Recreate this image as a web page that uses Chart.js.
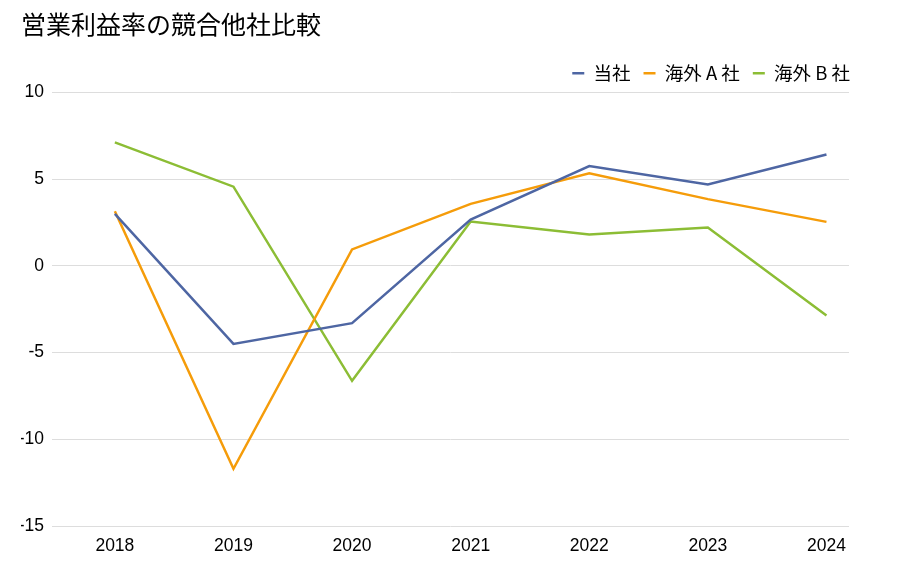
<!DOCTYPE html>
<html lang="ja">
<head>
<meta charset="utf-8">
<script src="https://cdn.jsdelivr.net/npm/chart.js@4/dist/chart.umd.min.js"></script>
<style>
  html, body { margin: 0; padding: 0; background: #fff; }
  #wrap { width: 900px; height: 579px; }
</style>
</head>
<body>
<div id="wrap"><canvas id="chart"></canvas></div>
<script>
// 営業利益率 (%) の推移
const years = [2018, 2019, 2020, 2021, 2022, 2023, 2024];
const tousha = [3.0, -4.5, -3.3, 2.67, 5.76, 4.7, 6.42];
const kaigaiA = [3.15, -11.7, 0.95, 3.58, 5.34, 3.85, 2.54];
const kaigaiB = [7.12, 4.57, -6.63, 2.56, 1.81, 2.21, -2.86];
const seriesNames = ['当社', '海外 A 社', '海外 B 社'];
const yTicks = [10, 5, 0, -5, -10, -15];

const colors = ['#4e66a3', '#f59c0a', '#8cbd35'];

function toPoints(vals) {
  return vals.map((v, i) => ({ x: years[i], y: v }));
}

// 凡例を右端まで寄せる
const legendShift = {
  id: 'legendShift',
  afterLayout(chart) {
    if (chart.legend) chart.legend.right += 14;
  }
};

const ctx = document.getElementById('chart').getContext('2d');
new Chart(ctx, {
  type: 'line',
  data: {
    datasets: [tousha, kaigaiA, kaigaiB].map((vals, i) => ({
      label: seriesNames[i],
      data: toPoints(vals),
      borderColor: colors[i],
      backgroundColor: colors[i],
      borderWidth: 2.5,
      pointRadius: 0,
      pointHoverRadius: 0,
      pointStyle: 'line',
      tension: 0
    }))
  },
  plugins: [legendShift],
  options: {
    responsive: true,
    maintainAspectRatio: false,
    animation: false,
    layout: { padding: { left: 21, right: 51, top: 4, bottom: 20 } },
    plugins: {
      title: {
        display: true,
        text: '営業利益率の競合他社比較',
        align: 'start',
        color: '#000',
        font: { family: '"Noto Sans CJK JP", sans-serif', size: 25, weight: 'normal' },
        padding: { top: 5, bottom: 12 }
      },
      legend: {
        position: 'top',
        align: 'end',
        labels: {
          usePointStyle: true,
          pointStyle: 'line',
          boxWidth: 12,
          boxHeight: 9,
          pointStyleWidth: 12,
          color: '#000',
          font: { family: '"Noto Sans CJK JP", sans-serif', size: 18.5 },
          padding: 13
        }
      },
      tooltip: { enabled: false }
    },
    scales: {
      x: {
        type: 'linear',
        min: 2017.47,
        max: 2024.19,
        grid: { display: false },
        border: { display: false },
        ticks: {
          stepSize: 1,
          includeBounds: false,
          color: '#000',
          padding: 2,
          font: { family: '"Liberation Sans", Arial, sans-serif', size: 17.5 },
          callback: v => String(v)
        }
      },
      y: {
        min: -15,
        max: 10,
        afterBuildTicks: axis => { axis.ticks = yTicks.map(v => ({ value: v })); },
        afterFit: axis => { axis.width = 31; },
        grid: { color: '#dddddd', lineWidth: 1, drawTicks: false },
        border: { display: false },
        ticks: {
          color: '#000',
          padding: 8,
          font: { family: '"Liberation Sans", Arial, sans-serif', size: 17.5 }
        }
      }
    }
  }
});
</script>
</body>
</html>
